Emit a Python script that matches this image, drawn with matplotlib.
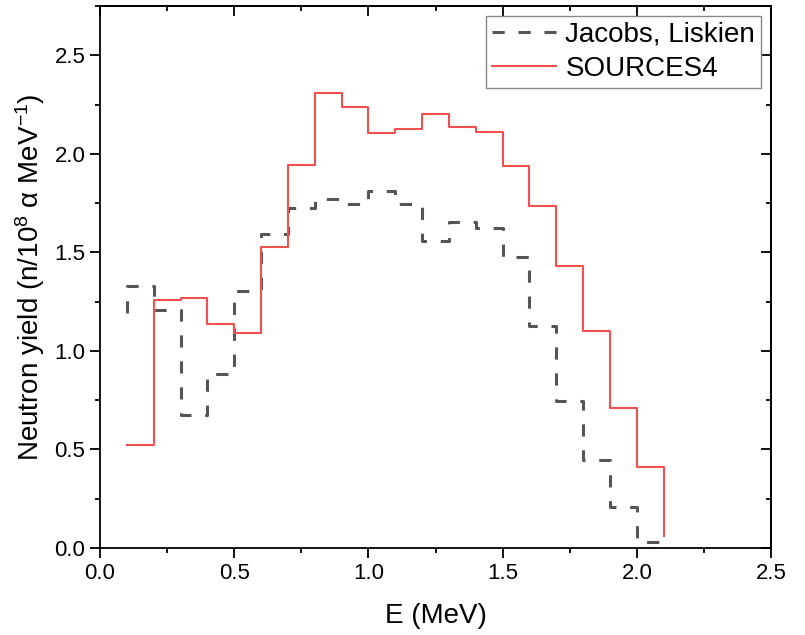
import matplotlib
matplotlib.use("Agg")
import matplotlib.pyplot as plt
from matplotlib.ticker import MultipleLocator

plt.rcParams['font.family'] = ['Liberation Sans', 'DejaVu Sans']
plt.rcParams['mathtext.default'] = 'regular'

# bin edges 0.1 ... 2.1 MeV
energy = [0.1, 0.2, 0.3, 0.4, 0.5, 0.6, 0.7, 0.8, 0.9, 1.0, 1.1,
          1.2, 1.3, 1.4, 1.5, 1.6, 1.7, 1.8, 1.9, 2.0, 2.1]

# Jacobs, Liskien (vertical-first steps)
jacobs = [1.19, 1.327, 1.205, 0.677, 0.883, 1.303, 1.593, 1.723, 1.772, 1.747, 1.813,
          1.745, 1.556, 1.656, 1.624, 1.475, 1.126, 0.748, 0.446, 0.209, 0.029]

# SOURCES4 (horizontal-first steps)
sources4 = [0.525, 1.256, 1.266, 1.138, 1.092, 1.527, 1.944, 2.307, 2.235, 2.106, 2.128,
            2.203, 2.135, 2.111, 1.936, 1.735, 1.431, 1.099, 0.709, 0.410, 0.062]

fig = plt.figure(figsize=(8.05, 6.35), dpi=100)
ax = fig.add_axes([0.1242, 0.137, 0.8336, 0.8536])

ax.plot(energy, jacobs, drawstyle='steps-pre', color='#555555', lw=2.2,
        ls=(0, (4, 4.5)), label='Jacobs, Liskien')
ax.plot(energy, sources4, drawstyle='steps-post', color='#F24F4F', lw=1.5,
        label='SOURCES4')

ax.set_xlim(0, 2.5)
ax.set_ylim(0, 2.75)
ax.xaxis.set_major_locator(MultipleLocator(0.5))
ax.xaxis.set_minor_locator(MultipleLocator(0.25))
ax.yaxis.set_major_locator(MultipleLocator(0.5))
ax.yaxis.set_minor_locator(MultipleLocator(0.25))
ax.xaxis.set_major_formatter(matplotlib.ticker.FormatStrFormatter('%.1f'))
ax.yaxis.set_major_formatter(matplotlib.ticker.FormatStrFormatter('%.1f'))

for s in ax.spines.values():
    s.set_linewidth(1.3)

ax.tick_params(which='both', direction='out', width=1.3, labelsize=16, top=False, right=False)
ax.tick_params(which='major', length=7)
ax.tick_params(which='minor', length=3.5)

# mirrored inward ticks on top and right
ax_top = ax.secondary_xaxis('top')
ax_top.xaxis.set_major_locator(MultipleLocator(0.5))
ax_top.xaxis.set_minor_locator(MultipleLocator(0.25))
ax_top.tick_params(which='both', direction='in', width=1.3, labeltop=False)
ax_top.tick_params(which='major', length=7)
ax_top.tick_params(which='minor', length=3.5)
ax_right = ax.secondary_yaxis('right')
ax_right.yaxis.set_major_locator(MultipleLocator(0.5))
ax_right.yaxis.set_minor_locator(MultipleLocator(0.25))
ax_right.tick_params(which='both', direction='in', width=1.3, labelright=False)
ax_right.tick_params(which='major', length=7)
ax_right.tick_params(which='minor', length=3.5)
ax_top.spines['top'].set_linewidth(1.3)
ax_right.spines['right'].set_linewidth(1.3)

ax.set_xlabel('E (MeV)', fontsize=20, labelpad=14)
ax.set_ylabel('Neutron yield (n/10$^{8}$ α MeV$^{-1}$)', fontsize=20, labelpad=5)

leg = ax.legend(loc='upper right', fontsize=20, fancybox=False, handlelength=2.3,
                handletextpad=0.35, labelspacing=0.3, borderpad=0.22,
                borderaxespad=0.35, framealpha=1)
leg.get_frame().set_edgecolor('#888888')
leg.get_frame().set_linewidth(1.0)

fig.savefig('out.png', dpi=100)
